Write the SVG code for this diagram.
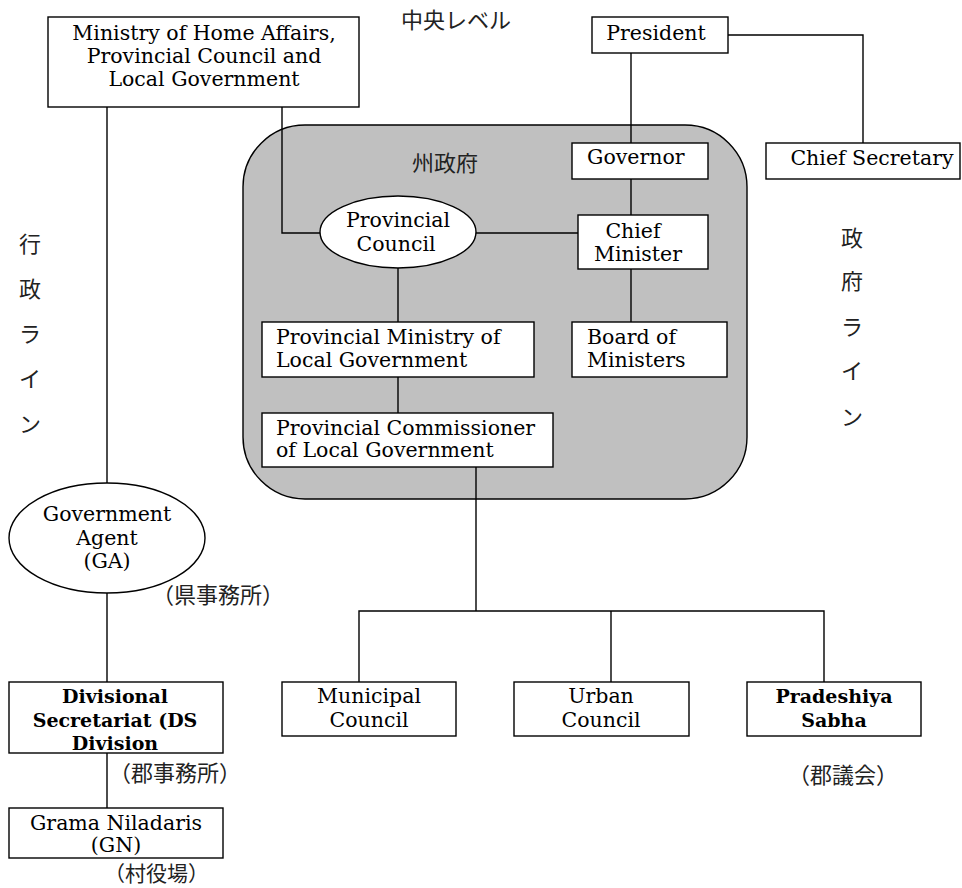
<svg xmlns="http://www.w3.org/2000/svg" width="962" height="888" viewBox="0 0 962 888">
<style>
.bx{fill:#fff;stroke:#000;stroke-width:1.4}
.t{font-family:"DejaVu Serif","Liberation Serif",serif;font-size:20.5px;fill:#000}
.c{text-anchor:middle}
.b{font-weight:bold;font-size:19px}
.j{font-family:"Noto Sans CJK JP",sans-serif;font-size:22px;fill:#222}
.ln{fill:none;stroke:#000;stroke-width:1.4}
</style>
<rect width="962" height="888" fill="#fff"/>
<g id="provincial-government">
<rect x="243" y="125" width="504" height="374" rx="62" ry="62" fill="#c0c0c0" stroke="#000" stroke-width="1.4"/>
<text class="j c" x="445" y="171">州政府</text>
</g>
<g id="connectors" class="ln">
<polyline points="282,107 282,233 320,233"/>
<line x1="107" y1="107" x2="107" y2="484"/>
<line x1="631" y1="53" x2="631" y2="143"/>
<polyline points="728,35 863,35 863,143"/>
<line x1="631" y1="179" x2="631" y2="215"/>
<line x1="475" y1="233" x2="578" y2="233"/>
<line x1="631" y1="269" x2="631" y2="322"/>
<line x1="398" y1="268" x2="398" y2="322"/>
<line x1="398" y1="377" x2="398" y2="413"/>
<line x1="476" y1="467" x2="476" y2="611"/>
<polyline points="359,682 359,611 824,611 824,682"/>
<line x1="611" y1="611" x2="611" y2="682"/>
<line x1="107" y1="593" x2="107" y2="682"/>
<line x1="107" y1="753" x2="107" y2="808"/>
</g>
<g id="central-level"><text class="j" x="401" y="28">中央レベル</text></g>
<g id="ministry">
<rect class="bx" x="48" y="17" width="311" height="90"/>
<text class="t c" x="204" y="40">Ministry of Home Affairs,</text>
<text class="t c" x="204" y="63">Provincial Council and</text>
<text class="t c" x="204" y="86">Local Government</text>
</g>
<g id="president">
<rect class="bx" x="592" y="17" width="136" height="36"/>
<text class="t c" x="656" y="40">President</text>
</g>
<g id="chief-secretary">
<rect class="bx" x="766" y="143" width="194" height="36"/>
<text class="t c" x="872" y="165">Chief Secretary</text>
</g>
<g id="governor">
<rect class="bx" x="572" y="143" width="136" height="36"/>
<text class="t" x="587" y="164">Governor</text>
</g>
<g id="provincial-council">
<ellipse class="bx" cx="398" cy="232" rx="78" ry="36"/>
<text class="t c" x="398" y="227">Provincial</text>
<text class="t c" x="396" y="251">Council</text>
</g>
<g id="chief-minister">
<rect class="bx" x="578" y="215" width="130" height="54"/>
<text class="t c" x="633" y="238">Chief</text>
<text class="t c" x="638" y="261">Minister</text>
</g>
<g id="board-of-ministers">
<rect class="bx" x="572" y="322" width="155" height="55"/>
<text class="t" x="587" y="344">Board of</text>
<text class="t" x="587" y="367">Ministers</text>
</g>
<g id="provincial-ministry">
<rect class="bx" x="262" y="322" width="272" height="55"/>
<text class="t" x="276" y="344">Provincial Ministry of</text>
<text class="t" x="276" y="367">Local Government</text>
</g>
<g id="provincial-commissioner">
<rect class="bx" x="262" y="413" width="291" height="54"/>
<text class="t" x="276" y="435">Provincial Commissioner</text>
<text class="t" x="276" y="457">of Local Government</text>
</g>
<g id="municipal-council">
<rect class="bx" x="282" y="682" width="174" height="54"/>
<text class="t c" x="369" y="703">Municipal</text>
<text class="t c" x="369" y="727">Council</text>
</g>
<g id="urban-council">
<rect class="bx" x="514" y="682" width="175" height="54"/>
<text class="t c" x="601" y="703">Urban</text>
<text class="t c" x="601" y="727">Council</text>
</g>
<g id="pradeshiya-sabha">
<rect class="bx" x="747" y="682" width="174" height="54"/>
<text class="t c b" x="834" y="703">Pradeshiya</text>
<text class="t c b" x="834" y="727">Sabha</text>
<text class="j" x="788" y="783">（郡議会）</text>
</g>
<g id="government-agent">
<ellipse class="bx" cx="107" cy="538" rx="98" ry="55"/>
<text class="t c" x="107" y="521">Government</text>
<text class="t c" x="107" y="545">Agent</text>
<text class="t c" x="107" y="568">(GA)</text>
<text class="j" x="152" y="603">（県事務所）</text>
</g>
<g id="divisional-secretariat">
<rect class="bx" x="9" y="682" width="214" height="71"/>
<text class="t c b" x="115" y="703">Divisional</text>
<text class="t c b" x="115" y="727">Secretariat (DS</text>
<text class="t c b" x="115" y="750">Division</text>
<text class="j" x="109" y="781">（郡事務所）</text>
</g>
<g id="grama-niladaris">
<rect class="bx" x="9" y="808" width="214" height="50"/>
<text class="t c" x="116" y="830">Grama Niladaris</text>
<text class="t c" x="116" y="852">(GN)</text>
<text class="j" x="104" y="881" style="font-size:21px">（村役場）</text>
</g>
<g id="admin-line">
<text class="j c" x="30" y="252">行</text>
<text class="j c" x="30" y="297">政</text>
<text class="j c" x="30" y="342">ラ</text>
<text class="j c" x="30" y="387">イ</text>
<text class="j c" x="30" y="432">ン</text>
</g>
<g id="government-line">
<text class="j c" x="852" y="246">政</text>
<text class="j c" x="852" y="289">府</text>
<text class="j c" x="852" y="335">ラ</text>
<text class="j c" x="852" y="379">イ</text>
<text class="j c" x="852" y="425">ン</text>
</g>
</svg>
